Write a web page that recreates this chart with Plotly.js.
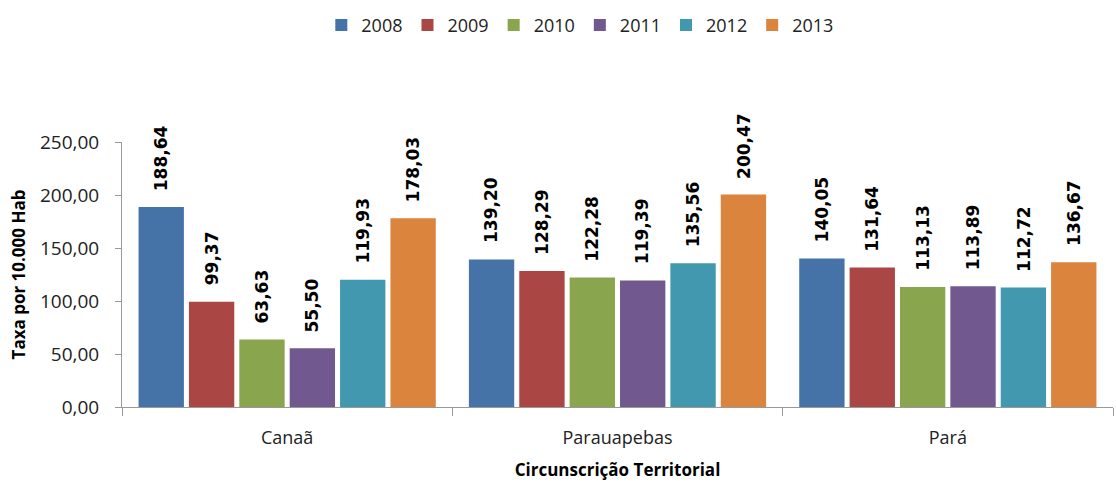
<!DOCTYPE html>
<html><head><meta charset="utf-8">
<script src="https://cdn.plot.ly/plotly-3.0.1.min.js"></script>
<style>html,body{margin:0;padding:0;background:#fff}</style>
</head><body>
<div id="chart" style="width:1116px;height:488px"></div>
<script>
const categories = ["Canaã", "Parauapebas", "Pará"];
const years = ["2008", "2009", "2010", "2011", "2012", "2013"];
const v2008 = [188.64, 139.20, 140.05];
const v2009 = [99.37, 128.29, 131.64];
const v2010 = [63.63, 122.28, 113.13];
const v2011 = [55.50, 119.39, 113.89];
const v2012 = [119.93, 135.56, 112.72];
const v2013 = [178.03, 200.47, 136.67];
const colors = ["#4572A7", "#AA4643", "#89A54E", "#71588F", "#4198AF", "#DB843D"];
const series = [v2008, v2009, v2010, v2011, v2012, v2013];

const BARGAP = 0.085;
const traces = series.map((vals, i) => ({
  type: "bar",
  name: years[i],
  x: categories,
  y: vals,
  marker: {color: colors[i]},
  hoverinfo: "none"
}));

// data labels as annotations placed over each bar's slot
const nS = series.length;
const slot = (1 - BARGAP) / nS;
const annotations = [];
series.forEach((vals, i) => {
  vals.forEach((v, c) => {
    annotations.push({
      xref: "x", yref: "y",
      x: c - (1 - BARGAP) / 2 + (i + 0.5) * slot,
      y: v,
      text: "<b>" + v.toFixed(2).replace(".", ",") + "</b>",
      textangle: -90,
      showarrow: false,
      xanchor: "center", yanchor: "bottom",
      yshift: 14,
      font: {family: "DejaVu Sans", size: 17, color: "#000"}
    });
  });
});

const layout = {
  width: 1116, height: 488,
  margin: {l: 122, r: 3, t: 142, b: 81, autoexpand: false},
  separators: ",.",
  barmode: "group",
  bargap: BARGAP,
  bargroupgap: 0.1,
  showlegend: true,
  hovermode: false,
  legend: {orientation: "h", xref: "container", x: 0.52, xanchor: "center", yref: "container", y: 0.948, yanchor: "middle",
           font: {family: "Open Sans", size: 18, color: "#222"}, itemwidth: 30, tracegroupgap: 0},
  xaxis: {
    showline: true, linecolor: "#999", linewidth: 1,
    ticks: "outside", tickson: "boundaries", ticklen: 8, tickcolor: "#999",
    ticklabelstandoff: 14,
    tickfont: {family: "Open Sans", size: 18, color: "#222"},
    title: {text: "<b>Circunscrição Territorial</b>", font: {family: "Open Sans", size: 17, color: "#000"}, standoff: 16},
    showgrid: false
  },
  yaxis: {
    range: [0, 250], dtick: 50, tickformat: ".2f",
    showline: true, linecolor: "#999", linewidth: 1,
    ticks: "outside", ticklen: 6, tickcolor: "#999",
    ticklabelstandoff: 12,
    tickfont: {family: "Open Sans", size: 19, color: "#222"},
    title: {text: "<b>Taxa por 10.000 Hab</b>", font: {family: "Open Sans", size: 17, color: "#000"}, standoff: 10},
    showgrid: false, zeroline: false
  },
  annotations: annotations,
  plot_bgcolor: "#fff", paper_bgcolor: "#fff"
};
Plotly.newPlot("chart", traces, layout, {displayModeBar: false, staticPlot: true});
</script>
</body></html>
